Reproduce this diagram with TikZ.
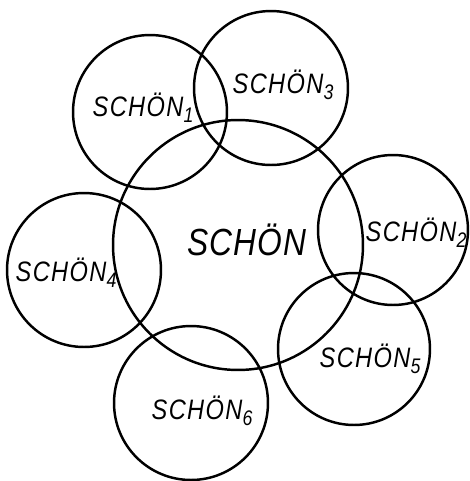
\documentclass[tikz,border=0pt]{standalone}
\usepackage{fontspec}
\setmainfont{Liberation Sans}[FakeStretch=0.84]
\usepackage{tikz}
\usetikzlibrary{positioning}

\newcommand{\schonidx}[1]{\raisebox{-0.4ex}{\fontsize{12pt}{12pt}\selectfont #1}}

\tikzset{
  ring/.style={draw, circle, line width=1.4pt, inner sep=0pt, minimum size=3.08cm},
  bigring/.style={ring, minimum size=5.0cm},
  word/.style={font=\fontsize{16pt}{16pt}\selectfont\itshape\addfontfeature{LetterSpace=5}, inner sep=0pt},
  bigword/.style={font=\fontsize{21.5pt}{21.5pt}\selectfont\itshape\addfontfeature{LetterSpace=3}, inner sep=0pt}
}

\begin{document}
\begin{tikzpicture}[x=0.02cm, y=-0.02cm]
  \useasboundingbox (0,0) rectangle (470,481);

  % Centre
  \node[bigring] (c0) at (238, 245) {};
  \node[bigword] (l0) at (247, 240) {SCHÖN};

  % Outer circles
  \node[ring] (c1) at (150, 112) {};
  \node[ring] (c3) at (271, 88) {};
  \node[ring, minimum size=3.0cm] (c2) at (393, 230) {};
  \node[ring] (c4) at (84, 270) {};
  \node[ring, minimum size=3.04cm] (c5) at (354, 349) {};
  \node[ring] (c6) at (191, 403) {};

  % Labels
  \node[word] (l1) at (143, 108) {SCHÖN\schonidx{1}};
  \node[word] (l3) at (283, 85) {SCHÖN\schonidx{3}};
  \node[word] (l2) at (416, 233) {SCHÖN\schonidx{2}};
  \node[word] (l4) at (66, 273) {SCHÖN\schonidx{4}};
  \node[word] (l5) at (370, 359) {SCHÖN\schonidx{5}};
  \node[word] (l6) at (202, 411) {SCHÖN\schonidx{6}};

\end{tikzpicture}
\end{document}
